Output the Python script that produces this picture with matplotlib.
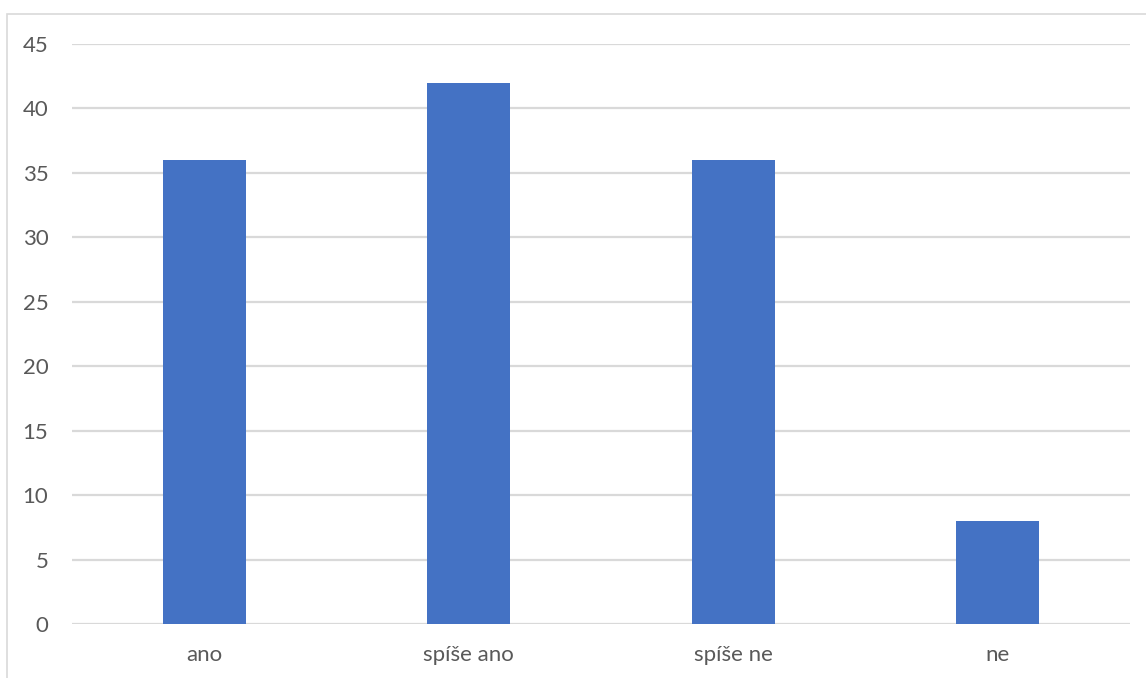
import matplotlib.pyplot as plt
from matplotlib.patches import Rectangle
import numpy as np

categories = ['ano', 'spíše ano', 'spíše ne', 'ne']
values = [36, 42, 36, 8]
yticks = [0, 5, 10, 15, 20, 25, 30, 35, 40, 45]

plt.rcParams['font.family'] = ['Lato', 'DejaVu Sans']

fig = plt.figure(figsize=(11.46, 6.78), dpi=100)
ax = fig.add_axes([72 / 1146, 54 / 678, (1130 - 72) / 1146, (624 - 44) / 678])

x = np.arange(len(categories))
ax.bar(x, values, width=0.315, color='#4472c4', zorder=3)

ax.set_xlim(-0.5, len(categories) - 0.5)
ax.set_ylim(0, 45)
ax.set_yticks(yticks)
ax.set_xticks(x)
ax.set_xticklabels(categories)
ax.grid(axis='y', color='#d9d9d9', linewidth=1.6, zorder=0)
ax.tick_params(axis='both', length=0, labelsize=16, labelcolor='#595959')
ax.tick_params(axis='y', pad=17)
ax.tick_params(axis='x', pad=15)
for s in ax.spines.values():
    s.set_visible(False)

# chart frame, cropped at the right and bottom
fig.patches.append(Rectangle((7 / 1146, -0.1), 1.2, (678 - 14) / 678 + 0.1,
                             transform=fig.transFigure, fill=False,
                             edgecolor='#d9d9d9', linewidth=1.2))

fig.savefig('out.png', dpi=100)
